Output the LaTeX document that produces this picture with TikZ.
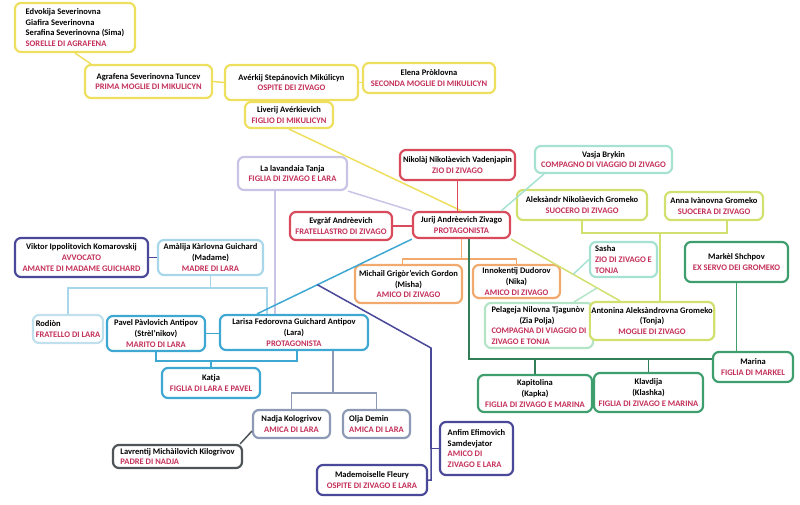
\documentclass[tikz,border=0pt]{standalone}
\usepackage{fontspec}
\setmainfont{Carlito}
\usetikzlibrary{positioning,calc}

\definecolor{cGiallo}{HTML}{EEDF5E}
\definecolor{cRosso}{HTML}{D84A5C}
\definecolor{cLavanda}{HTML}{C8C4E6}
\definecolor{cNotte}{HTML}{4A4898}
\definecolor{cCielo}{HTML}{A8D6EA}
\definecolor{cPallido}{HTML}{C0E0EE}
\definecolor{cCiano}{HTML}{3EA8D2}
\definecolor{cAmiche}{HTML}{8C9AB6}
\definecolor{cScuro}{HTML}{4E5458}
\definecolor{cArancio}{HTML}{F2A96E}
\definecolor{cAcqua}{HTML}{A6E2D2}
\definecolor{cMenta}{HTML}{B4E4C6}
\definecolor{cOliva}{HTML}{D2E070}
\definecolor{cVerde}{HTML}{3E9E6E}
\definecolor{cRuolo}{HTML}{C4305A}

\newcommand{\ruolo}[1]{{\color{cRuolo}#1}}

\tikzset{
    persona/.style={draw, fill=white, rounded corners=6pt, line width=2.2pt, inner sep=1.5pt, align=center, font=\fontsize{8.5}{10.8}\selectfont\bfseries},
    sinistra/.style={align=left},
    legame/.style={line width=1.5pt}
}

\begin{document}
\begin{tikzpicture}[x=1pt, y=-1pt]
    \useasboundingbox (0,0) rectangle (800,505);
    % famiglia Mikulicyn
    \node[persona, draw=cGiallo, sinistra, minimum width=120, minimum height=49] (sorelle) at (75,27.5) {Edvokija Severinovna\\Giafira Severinovna\\Serafina Severinovna (Sima)\\\ruolo{SORELLE DI AGRAFENA}};
    \node[persona, draw=cGiallo, minimum width=127, minimum height=33] (agrafena) at (148.5,81.5) {Agrafena Severinovna Tuncev\\\ruolo{PRIMA MOGLIE DI MIKULICYN}};
    \node[persona, draw=cGiallo, minimum width=133, minimum height=35] (averkij) at (291.5,82.5) {Avérkij Stepánovich Mikúlicyn\\\ruolo{OSPITE DEI ZIVAGO}};
    \node[persona, draw=cGiallo, minimum width=132, minimum height=30] (elena) at (429,78) {Elena Pròklovna\\\ruolo{SECONDA MOGLIE DI MIKULICYN}};
    \node[persona, draw=cGiallo, minimum width=88, minimum height=26] (liverij) at (289,115) {Liverij Avérkievich\\\ruolo{FIGLIO DI MIKULICYN}};
    % famiglia Zivago
    \node[persona, draw=cRosso, minimum width=115, minimum height=30] (nikolaj) at (457.5,165) {Nikolàj Nikolàevich Vadenjapin\\\ruolo{ZIO DI ZIVAGO}};
    \node[persona, draw=cRosso, minimum width=97, minimum height=26] (zivago) at (461.5,225) {Jurij Andrèevich Zivago\\\ruolo{PROTAGONISTA}};
    \node[persona, draw=cRosso, minimum width=102, minimum height=28] (evgraf) at (341,226) {Evgràf Andrèevich\\\ruolo{FRATELLASTRO DI ZIVAGO}};
    \node[persona, draw=cLavanda, minimum width=109, minimum height=33] (tanja) at (292.5,173.5) {La lavandaia Tanja\\\ruolo{FIGLIA DI ZIVAGO E LARA}};
    % famiglia di Lara
    \node[persona, draw=cNotte, minimum width=133, minimum height=39] (viktor) at (81.5,257.5) {Viktor Ippolitovich Komarovskij\\\ruolo{AVVOCATO}\\\ruolo{AMANTE DI MADAME GUICHARD}};
    \node[persona, draw=cCielo, minimum width=105, minimum height=35] (amalija) at (210.5,257.5) {Amàlija Kàrlovna Guichard\\(Madame)\\\ruolo{MADRE DI LARA}};
    \node[persona, draw=cPallido, sinistra, minimum width=70, minimum height=28] (rodion) at (68,329) {Rodiòn\\\ruolo{FRATELLO DI LARA}};
    \node[persona, draw=cCiano, minimum width=98, minimum height=35] (pavel) at (156,333.5) {Pavel Pàvlovich Antipov\\(Strèl'nikov)\\\ruolo{MARITO DI LARA}};
    \node[persona, draw=cCiano, minimum width=148, minimum height=35] (larisa) at (294,332.5) {Larisa Fedorovna Guichard Antipov\\(Lara)\\\ruolo{PROTAGONISTA}};
    \node[persona, draw=cCiano, minimum width=98, minimum height=30] (katja) at (211,383) {Katja\\\ruolo{FIGLIA DI LARA E PAVEL}};
    \node[persona, draw=cAmiche, minimum width=77, minimum height=28] (nadja) at (291.5,424) {Nadja Kologrivov\\\ruolo{AMICA DI LARA}};
    \node[persona, draw=cAmiche, sinistra, minimum width=67, minimum height=28] (olja) at (376.5,424) {Olja Demin\\\ruolo{AMICA DI LARA}};
    \node[persona, draw=cScuro, sinistra, minimum width=129, minimum height=23] (lavrentij) at (177.5,456.5) {Lavrentij Michàilovich Kilogrivov\\\ruolo{PADRE DI NADJA}};
    \node[persona, draw=cNotte, minimum width=110, minimum height=30] (fleury) at (372,480) {Mademoiselle Fleury\\\ruolo{OSPITE DI ZIVAGO E LARA}};
    \node[persona, draw=cNotte, sinistra, minimum width=73, minimum height=53] (anfim) at (476.5,448.5) {Anfim Efimovich\\Samdevjator\\\ruolo{AMICO DI}\\\ruolo{ZIVAGO E LARA}};
    % amici e famiglia Gromeko
    \node[persona, draw=cArancio, minimum width=107, minimum height=38] (michail) at (408.5,284) {Michail Grigòr'evich Gordon\\(Misha)\\\ruolo{AMICO DI ZIVAGO}};
    \node[persona, draw=cArancio, minimum width=87, minimum height=33] (innokentij) at (516.5,281.5) {Innokentij Dudorov\\(Nika)\\\ruolo{AMICO DI ZIVAGO}};
    \node[persona, draw=cAcqua, minimum width=137, minimum height=27] (vasja) at (603.5,159.5) {Vasja Brykin\\\ruolo{COMPAGNO DI VIAGGIO DI ZIVAGO}};
    \node[persona, draw=cOliva, minimum width=130, minimum height=30] (aleksandr) at (582,205) {Aleksàndr Nikolàevich Gromeko\\\ruolo{SUOCERO DI ZIVAGO}};
    \node[persona, draw=cOliva, minimum width=98, minimum height=28] (anna) at (714,206) {Anna Ivànovna Gromeko\\\ruolo{SUOCERA DI ZIVAGO}};
    \node[persona, draw=cAcqua, sinistra, minimum width=67, minimum height=35] (sasha) at (623.5,259.5) {Sasha\\\ruolo{ZIO DI ZIVAGO E}\\\ruolo{TONJA}};
    \node[persona, draw=cVerde, minimum width=103, minimum height=40] (markel) at (736.5,262) {Markèl Shchpov\\\ruolo{EX SERVO DEI GROMEKO}};
    \node[persona, draw=cMenta, sinistra, minimum width=108, minimum height=45] (pelageja) at (539,325.5) {Pelageja Nilovna Tjagunòv\\\hspace*{28pt}(Zia Polja)\\\ruolo{COMPAGNA DI VIAGGIO DI}\\\ruolo{ZIVAGO E TONJA}};
    \node[persona, draw=cOliva, minimum width=106, minimum height=38] (antonina) at (652,321) {Antonina Aleksàndrovna Gromeko\\(Tonja)\\\ruolo{MOGLIE DI ZIVAGO}};
    \node[persona, draw=cVerde, minimum width=80, minimum height=30] (marina) at (753,367) {Marina\\\ruolo{FIGLIA DI MARKEL}};
    \node[persona, draw=cVerde, minimum width=114, minimum height=37] (kapitolina) at (535,393.5) {Kapitolina\\(Kapka)\\\ruolo{FIGLIA DI ZIVAGO E MARINA}};
    \node[persona, draw=cVerde, minimum width=109, minimum height=39] (klavdija) at (648.5,392.5) {Klavdija\\(Klashka)\\\ruolo{FIGLIA DI ZIVAGO E MARINA}};

    % legami Mikulicyn
    \draw[legame, cGiallo] (sorelle.south) -- ([xshift=7]agrafena.north west);
    \draw[legame, cGiallo] (agrafena.east) -- (averkij.west);
    \draw[legame, cGiallo] (averkij.east) -- (averkij.east -| elena.west);
    \draw[legame, cGiallo] (liverij.north) -- (liverij.north |- averkij.south);
    \draw[legame, cGiallo] (liverij.south) -- (zivago.north);
    % legami Zivago
    \draw[legame, cRosso] (nikolaj.south) -- (nikolaj.south |- zivago.north);
    \draw[legame, cRosso] (evgraf.east) -- (evgraf.east -| zivago.west);
    \draw[legame, cLavanda] (tanja.south east) -- (zivago.north west);
    \draw[legame, cLavanda] ([xshift=-17.5]tanja.south) -- ([xshift=-17.5]tanja.south |- larisa.north);
    \draw[legame, cAcqua] ([xshift=-10]zivago.north east) -- ([xshift=10]vasja.south west);
    \draw[legame, cArancio] (zivago.south) -- ++(0,20) coordinate (amici);
    \draw[legame, cArancio] ([xshift=-6]michail.north) |- (amici) -| (innokentij.north);
    \draw[legame, cOliva] (zivago.south east) -- ([xshift=-32]antonina.north)
        coordinate[pos=0.57] (nodoS) coordinate[pos=0.79] (nodoP);
    \draw[legame, cOliva] (aleksandr.south) -- ++(0,12) coordinate (suoceri) -| ([xshift=13]anna.south);
    \draw[legame, cOliva] ([xshift=8]antonina.north) -- ([xshift=8]antonina.north |- suoceri);
    \draw[legame, cAcqua] (sasha.west) -- (nodoS);
    \draw[legame, cMenta] ([xshift=-20]pelageja.north east) -- (nodoP);
    \coordinate (figlie) at ([yshift=8]marina.west);
    \draw[legame, cVerde!80!black] ([xshift=7.5]zivago.south) |- (figlie);
    \draw[legame, cVerde!80!black] (kapitolina.north) -- (kapitolina.north |- figlie);
    \draw[legame, cVerde!80!black] (klavdija.north) -- (klavdija.north |- figlie);
    \draw[legame, cVerde] (markel.south) -- (markel.south |- marina.north);
    % legami Lara
    \draw[legame, cNotte] (viktor.east) -- (amalija.west);
    \draw[legame, cCielo] (amalija.south) -- ++(0,12) coordinate (figli);
    \draw[legame, cCielo] (rodion.north) |- (figli) -| ([xshift=-27]larisa.north);
    \draw[legame, cCiano] (pavel.east) -- (pavel.east -| larisa.west);
    \draw[legame, cCiano] (pavel.south) -- ++(0,9) coordinate (coppia) -| ([xshift=3]larisa.south);
    \draw[legame, cCiano] (katja.north) -- (katja.north |- coppia);
    \draw[legame, cCiano] ([xshift=-37]larisa.north) -- (zivago.south west) coordinate[pos=0.39] (bivio);
    \draw[legame, cAmiche] ([xshift=39]larisa.south) -- ++(0,42) coordinate (amiche);
    \draw[legame, cAmiche] (nadja.north) |- (amiche) -| (olja.north);
    \draw[legame, cScuro] ([xshift=-3]lavrentij.north east) -- ([yshift=8]nadja.south west);
    \coordinate (gomito) at (431,348);
    \draw[legame, cNotte] (bivio) -- (gomito) |- (fleury.east);
    \draw[legame, cNotte] (anfim.west) -| (gomito);
\end{tikzpicture}
\end{document}
